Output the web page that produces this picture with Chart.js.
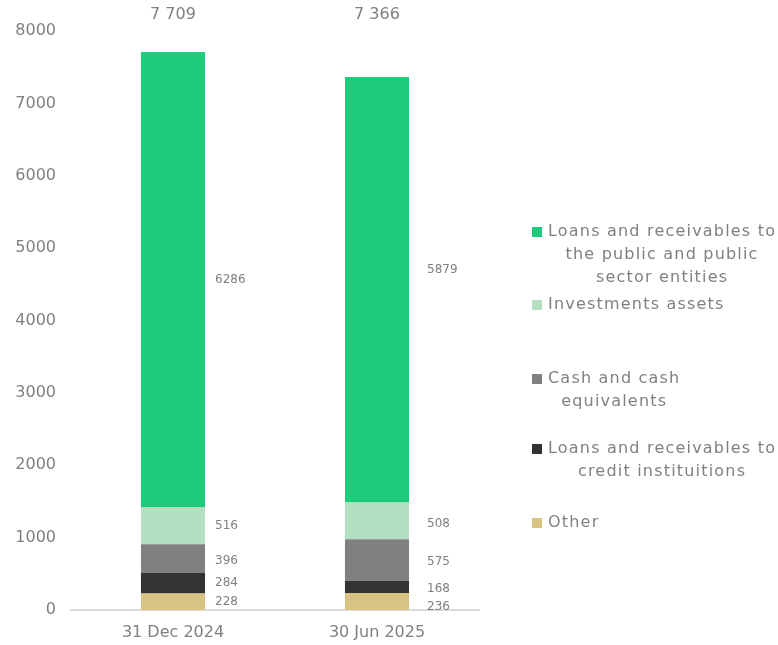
<!DOCTYPE html>
<html>
<head>
<meta charset="utf-8">
<script src="https://cdn.jsdelivr.net/npm/chart.js@4/dist/chart.umd.min.js"></script>
<style>
  html, body { margin: 0; padding: 0; background: #fff; }
  #wrap { width: 778px; height: 645px; }
</style>
</head>
<body>
<div id="wrap"><canvas id="chart" width="778" height="645"></canvas></div>
<script>
// data
var categories = ["31 Dec 2024", "30 Jun 2025"];
var other = [228, 236];
var creditInst = [284, 168];
var cash = [396, 575];
var investments = [516, 508];
var loansPublic = [6286, 5879];
var totals = ["7 709", "7 366"];

var seriesNames = ["Other", "Loans and receivables to credit instituitions", "Cash and cash equivalents",
  "Investments assets", "Loans and receivables to the public and public sector entities"];
// legend text split in lines like the original
var legendLines = [
  ["Loans and receivables to", "the public and public", "sector entities"],
  ["Investments assets"],
  ["Cash and cash", "equivalents"],
  ["Loans and receivables to", "credit instituitions"],
  ["Other"]
];

var FONT = "'DejaVu Sans', sans-serif";
var GREY = "#808080";
var colors = ["#d7c382", "#333333", "#808080", "#b4dfc1", "#1fca7a"];

var seriesData = [other, creditInst, cash, investments, loansPublic];
var datasets = seriesData.map(function (d, i) {
  return {
    label: seriesNames[i],
    data: d,
    backgroundColor: colors[i],
    borderWidth: 0,
    categoryPercentage: 1,
    barPercentage: 0.314
  };
});

/* labels next to the bars, totals above, legend on the right */
var drawExtras = {
  id: 'drawExtras',
  afterDatasetsDraw: function (chart) {
    var c = chart.ctx;
    c.save();
    c.fillStyle = GREY;
    c.textBaseline = 'middle';
    c.textAlign = 'left';
    c.font = "12px " + FONT;
    var xOff = [10, 18];
    // small nudges so labels sit where the original put them
    var yNudge = [[0, 5], [0, 2], [2, 2], [0, 3], [0, -20]];
    chart.data.datasets.forEach(function (ds, i) {
      var meta = chart.getDatasetMeta(i);
      meta.data.forEach(function (bar, j) {
        var y = (bar.y + bar.base) / 2 + yNudge[i][j];
        c.fillText(ds.data[j], bar.x + bar.width / 2 + xOff[j], y);
      });
    });

    // totals
    var top = chart.getDatasetMeta(0).data;
    c.font = "16px " + FONT;
    c.textAlign = 'center';
    top.forEach(function (bar, j) {
      c.fillText(totals[j], bar.x, 15);
    });

    // legend
    var itemY = [232, 305, 379, 449, 523];
    var legColors = colors.slice().reverse();
    c.letterSpacing = '1.2px';
    legendLines.forEach(function (lines, k) {
      c.fillStyle = legColors[k];
      c.fillRect(532, itemY[k] - 5, 10, 10);
      c.fillStyle = GREY;
      c.font = "16px " + FONT;
      var w = 0;
      lines.forEach(function (l) { w = Math.max(w, c.measureText(l).width); });
      var cx = 548 + w / 2;
      c.textAlign = 'center';
      lines.forEach(function (l, n) {
        c.fillText(l, cx, itemY[k] + n * 23);
      });
    });
    c.letterSpacing = '0px';
    c.restore();
  }
};

new Chart(document.getElementById('chart'), {
  type: 'bar',
  data: { labels: categories, datasets: datasets },
  options: {
    responsive: false,
    animation: false,
    layout: { padding: { top: 31, right: 299, bottom: 0, left: 0 } },
    plugins: {
      legend: { display: false },
      tooltip: { enabled: false }
    },
    scales: {
      x: {
        stacked: true,
        grid: { display: false, drawTicks: false },
        border: { color: '#d9d9d9', width: 2 },
        ticks: { color: GREY, font: { family: FONT, size: 16 }, padding: 13 },
        afterFit: function (s) { s.height = 35; }
      },
      y: {
        stacked: true,
        min: 0,
        max: 8000,
        grid: { display: false, drawTicks: false },
        border: { display: false },
        ticks: {
          stepSize: 1000, color: GREY, font: { family: FONT, size: 16 }, padding: 15,
          callback: function (v) { return String(v); }
        },
        afterFit: function (s) { s.width = 71; }
      }
    }
  },
  plugins: [drawExtras]
});
</script>
</body>
</html>
